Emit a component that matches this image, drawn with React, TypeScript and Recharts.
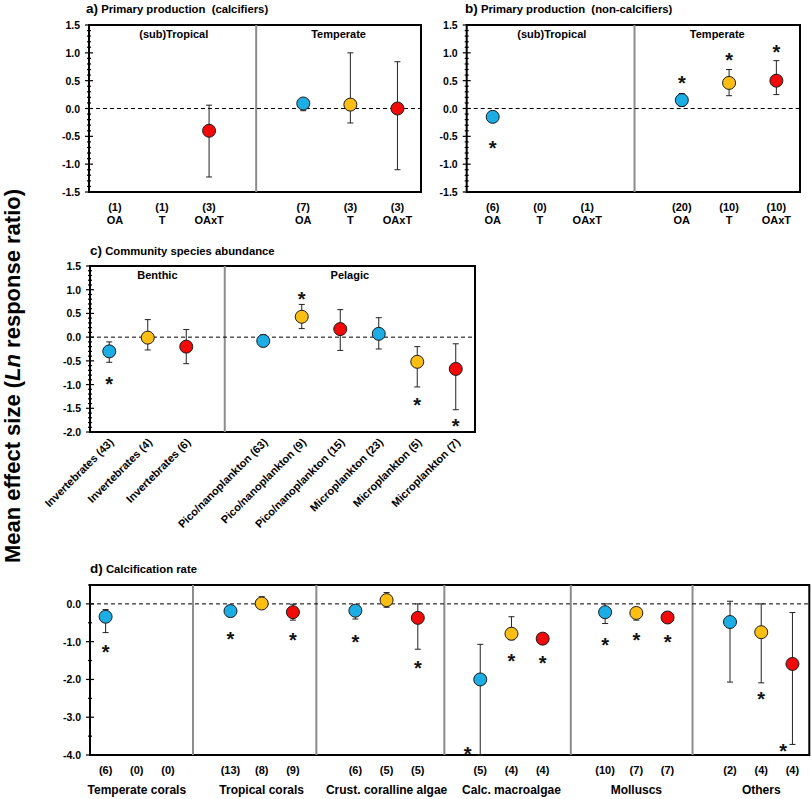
import React from "react"
import { ScatterChart, Scatter, XAxis, YAxis, ErrorBar, ReferenceLine, ReferenceArea } from "recharts"

const BLUE = "#1CADE4"
const ORANGE = "#FDBE14"
const RED = "#F00A0A"
const COLORS = [BLUE, ORANGE, RED]
const FONT = "Arial, 'Liberation Sans', Helvetica, sans-serif"

// a) Primary production (calcifiers)
const aPos = [1, 2, 3, 5, 6, 7]
const aTreat = ["OA", "T", "OAxT", "OA", "T", "OAxT"]
const aN = ["(1)", "(1)", "(3)", "(7)", "(3)", "(3)"]
const aMean = [null, null, -0.4, 0.09, 0.07, 0.0]
const aHi = [null, null, 0.06, 0.12, 1.0, 0.84]
const aLo = [null, null, -1.23, -0.04, -0.26, -1.1]
const aStarPos: number[] = []
const aStarVal: number[] = []

// b) Primary production (non-calcifiers)
const bPos = [1, 2, 3, 5, 6, 7]
const bTreat = ["OA", "T", "OAxT", "OA", "T", "OAxT"]
const bN = ["(6)", "(0)", "(1)", "(20)", "(10)", "(10)"]
const bMean = [-0.15, null, null, 0.15, 0.46, 0.5]
const bHi = [-0.05, null, null, 0.27, 0.7, 0.86]
const bLo = [-0.2, null, null, 0.04, 0.23, 0.25]
const bStarPos = [1, 5, 6, 7]
const bStarVal = [-0.63, 0.53, 0.94, 1.09]

const abGroups = ["(sub)Tropical", "Temperate"]
const abGroupPos = [2.25, 5.75]
const abDividers = [4]

// c) Community species abundance
const cPos = [1, 2, 3, 5, 6, 7, 8, 9, 10]
const cLabels = [
  "Invertebrates (43)", "Invertebrates (4)", "Invertebrates (6)",
  "Pico/nanoplankton (63)", "Pico/nanoplankton (9)", "Pico/nanoplankton (15)",
  "Microplankton (23)", "Microplankton (5)", "Microplankton (7)",
]
const cMean = [-0.3, -0.01, -0.2, -0.08, 0.43, 0.17, 0.07, -0.52, -0.67]
const cHi = [-0.1, 0.37, 0.16, 0.05, 0.69, 0.58, 0.41, -0.2, -0.14]
const cLo = [-0.53, -0.27, -0.56, -0.2, 0.18, -0.28, -0.25, -1.05, -1.53]
const cStarPos = [1, 6, 9, 10]
const cStarVal = [-0.9, 0.89, -1.34, -1.79]
const cGroups = ["Benthic", "Pelagic"]
const cGroupPos = [2.25, 7.25]
const cDividers = [4]

// d) Calcification rate
const dPos = [1, 2, 3, 5, 6, 7, 9, 10, 11, 13, 14, 15, 17, 18, 19, 21, 22, 23]
const dN = ["(6)", "(0)", "(0)", "(13)", "(8)", "(9)", "(6)", "(5)", "(5)", "(5)", "(4)", "(4)", "(10)", "(7)", "(7)", "(2)", "(4)", "(4)"]
const dMean = [-0.34, null, null, -0.19, 0.01, -0.22, -0.18, 0.1, -0.37, -2.0, -0.79, -0.92, -0.22, -0.24, -0.36, -0.48, -0.75, -1.59]
const dHi = [-0.15, null, null, -0.08, 0.19, -0.01, -0.08, 0.3, 0.0, -1.07, -0.34, -0.78, 0.0, -0.1, -0.3, 0.07, 0.0, -0.23]
const dLo = [-0.76, null, null, -0.34, -0.05, -0.43, -0.4, -0.09, -1.2, -4.0, -0.95, -1.02, -0.52, -0.43, -0.42, -2.07, -2.09, -3.72]
const dStarPos = [1, 5, 7, 9, 11, 12.6, 14, 15, 17, 18, 19, 22, 22.7]
const dStarVal = [-1.18, -0.83, -0.85, -0.89, -1.58, -3.88, -1.4, -1.47, -0.99, -0.85, -0.9, -2.42, -3.78]
const dGroups = ["Temperate corals", "Tropical corals", "Crust. coralline algae", "Calc. macroalgae", "Molluscs", "Others"]
const dGroupPos = [2, 6, 10, 14, 18, 22]
const dDividers = [3.8, 7.75, 11.85, 15.9, 19.8]

const tenths = (from: number, to: number, step: number) => {
  const out: number[] = []
  const n = Math.round((to - from) / step)
  for (let k = 0; k <= n; k++) out.push(Math.round((from + k * step) * 10) / 10)
  return out
}

function makePoints(pos: number[], mean: (number | null)[], hi: (number | null)[], lo: (number | null)[]) {
  const out: any[] = []
  pos.forEach((p, i) => {
    const m = mean[i]
    if (m == null) return
    out.push({ x: p, y: m, err: [m - (lo[i] as number), (hi[i] as number) - m], fill: COLORS[i % 3] })
  })
  return out
}

const makeStars = (pos: number[], val: number[]) => pos.map((p, i) => ({ x: p, y: val[i] }))

const Dot = (p: any) => (
  <circle cx={p.cx} cy={p.cy} r={6.5} fill={p.payload.fill} stroke="#1a1a1a" strokeWidth={1} />
)

const Star = (p: any) => (
  <text x={p.cx} y={p.cy + 11} textAnchor="middle" fontSize={20} fontWeight="bold" fill="#111">*</text>
)

function makeYTick(majorStep: number) {
  return (props: any) => {
    const { x, y, payload } = props
    const v = payload.value
    const major = Math.abs(v / majorStep - Math.round(v / majorStep)) < 1e-6
    return (
      <g>
        <line x1={major ? x - 4 : x - 2} x2={major ? x + 4 : x + 2} y1={y} y2={y} stroke="#000" strokeWidth={1.2} />
        {major && (
          <text x={x - 9} y={y} dy={4} textAnchor="end" fontSize={10.5} fontWeight="bold" fill="#000">
            {v.toFixed(1)}
          </text>
        )}
      </g>
    )
  }
}

function makeABTick(pos: number[], n: string[], treat: string[]) {
  return (props: any) => {
    const i = pos.indexOf(props.payload.value)
    return (
      <g fontSize={11} fontWeight="bold" fill="#000">
        <text x={props.x} y={props.y + 19} textAnchor="middle">{n[i]}</text>
        <text x={props.x} y={props.y + 32} textAnchor="middle">{treat[i]}</text>
      </g>
    )
  }
}

const CTick = (props: any) => {
  const i = cPos.indexOf(props.payload.value)
  const tx = props.x + 5
  const ty = props.y + 11
  return (
    <text x={tx} y={ty} transform={`rotate(-45 ${tx} ${ty})`} textAnchor="end" fontSize={11} fontWeight="bold" fill="#000">
      {cLabels[i]}
    </text>
  )
}

const DTick = (props: any) => {
  const i = dPos.indexOf(props.payload.value)
  const g = dGroupPos.indexOf(props.payload.value)
  return (
    <g fontWeight="bold" fill="#000">
      <text x={props.x} y={props.y + 19} textAnchor="middle" fontSize={11}>{dN[i]}</text>
      {g >= 0 && (
        <text x={props.x} y={props.y + 39} textAnchor="middle" fontSize={12}>{dGroups[g]}</text>
      )}
    </g>
  )
}

interface PanelProps {
  left: number
  top: number
  width: number
  height: number
  margin: { top: number; right: number; bottom: number; left: number }
  xDomain: [number, number]
  yDomain: [number, number]
  yTicks: number[]
  majorStep: number
  xTicks: number[]
  xTick: any
  xHeight: number
  points: any[]
  stars: any[]
  dividers: number[]
  headers: string[]
  headerPos: number[]
}

function Panel(p: PanelProps) {
  return (
    <div style={{ position: "absolute", left: p.left, top: p.top }}>
      <ScatterChart width={p.width} height={p.height} margin={p.margin}>
        <XAxis type="number" dataKey="x" domain={p.xDomain} ticks={p.xTicks} interval={0} tick={p.xTick}
          tickSize={0} tickMargin={0} tickLine={false} axisLine={false} height={p.xHeight} allowDataOverflow />
        <YAxis type="number" dataKey="y" domain={p.yDomain} ticks={p.yTicks} interval={0} tick={makeYTick(p.majorStep)}
          tickSize={0} tickMargin={0} tickLine={false} axisLine={false} width={40} allowDataOverflow />
        {p.dividers.map((d) => (
          <ReferenceLine key={"div" + d} x={d} stroke="#8c8c8c" strokeWidth={2} />
        ))}
        <ReferenceLine y={0} stroke="#000" strokeDasharray="4 3" strokeWidth={1} />
        {p.headers.map((h, i) => (
          <ReferenceLine key={h} x={p.headerPos[i]} stroke="none"
            label={{ value: h, position: "insideTop", offset: 5, fill: "#000", fontSize: 11, fontWeight: "bold" }} />
        ))}
        <Scatter data={p.points} shape={Dot} isAnimationActive={false}>
          <ErrorBar dataKey="err" direction="y" width={3} stroke="#222" strokeWidth={1} isAnimationActive={false} />
        </Scatter>
        <Scatter data={p.stars} shape={Star} isAnimationActive={false} />
        <ReferenceArea x1={p.xDomain[0]} x2={p.xDomain[1]} y1={p.yDomain[0]} y2={p.yDomain[1]}
          fill="none" fillOpacity={0} stroke="#000" strokeWidth={2} />
      </ScatterChart>
    </div>
  )
}

export default function App() {
  const abTicks = tenths(-1.5, 1.5, 0.1)
  const cTicks = tenths(-2.0, 1.5, 0.1)
  const dTicks = tenths(-4.0, 0.5, 0.5)
  return (
    <div style={{ position: "absolute", left: 0, top: 0, width: 812, height: 799, background: "#fff", fontFamily: FONT, overflow: "hidden" }}>
      <svg width={812} height={799} style={{ position: "absolute", left: 0, top: 0 }} fontFamily={FONT}>
        <text x={20} y={376} transform="rotate(-90 20 376)" textAnchor="middle" fontSize={22} fontWeight="bold" fill="#000">
          Mean effect size (<tspan fontStyle="italic">Ln</tspan> response ratio)
        </text>
        <text x={86} y={12.5} fontWeight="bold" fill="#000" style={{ whiteSpace: "pre" }}>
          <tspan fontSize={13.5}>a)</tspan>
          <tspan fontSize={11.3}> Primary production  (calcifiers)</tspan>
        </text>
        <text x={465} y={12.5} fontWeight="bold" fill="#000" style={{ whiteSpace: "pre" }}>
          <tspan fontSize={13.5}>b)</tspan>
          <tspan fontSize={11.3}> Primary production  (non-calcifiers)</tspan>
        </text>
        <text x={90} y={255} fontWeight="bold" fill="#000" style={{ whiteSpace: "pre" }}>
          <tspan fontSize={13.5}>c)</tspan>
          <tspan fontSize={11.3}> Community species abundance</tspan>
        </text>
        <text x={90} y={573} fontWeight="bold" fill="#000" style={{ whiteSpace: "pre" }}>
          <tspan fontSize={13.5}>d)</tspan>
          <tspan fontSize={11.3}> Calcification rate</tspan>
        </text>
      </svg>

      <Panel left={0} top={0} width={430} height={235} margin={{ top: 25, right: 9, bottom: 3, left: 49 }}
        xDomain={[0.45, 7.5]} yDomain={[-1.5, 1.5]} yTicks={abTicks} majorStep={0.5}
        xTicks={aPos} xTick={makeABTick(aPos, aN, aTreat)} xHeight={40}
        points={makePoints(aPos, aMean, aHi, aLo)} stars={makeStars(aStarPos, aStarVal)}
        dividers={abDividers} headers={abGroups} headerPos={abGroupPos} />

      <Panel left={420} top={0} width={390} height={235} margin={{ top: 25, right: 10, bottom: 3, left: 6.7 }}
        xDomain={[0.45, 7.5]} yDomain={[-1.5, 1.5]} yTicks={abTicks} majorStep={0.5}
        xTicks={bPos} xTick={makeABTick(bPos, bN, bTreat)} xHeight={40}
        points={makePoints(bPos, bMean, bHi, bLo)} stars={makeStars(bStarPos, bStarVal)}
        dividers={abDividers} headers={abGroups} headerPos={abGroupPos} />

      <Panel left={0} top={240} width={490} height={330} margin={{ top: 26, right: 15, bottom: 18, left: 50 }}
        xDomain={[0.5, 10.5]} yDomain={[-2.0, 1.5]} yTicks={cTicks} majorStep={0.5}
        xTicks={cPos} xTick={CTick} xHeight={120}
        points={makePoints(cPos, cMean, cHi, cLo)} stars={makeStars(cStarPos, cStarVal)}
        dividers={cDividers} headers={cGroups} headerPos={cGroupPos} />

      <Panel left={0} top={570} width={812} height={229} margin={{ top: 15, right: 2.7, bottom: 4, left: 50 }}
        xDomain={[0.5, 23.54]} yDomain={[-4.0, 0.5]} yTicks={dTicks} majorStep={1}
        xTicks={dPos} xTick={DTick} xHeight={40}
        points={makePoints(dPos, dMean, dHi, dLo)} stars={makeStars(dStarPos, dStarVal)}
        dividers={dDividers} headers={[]} headerPos={[]} />
    </div>
  )
}
